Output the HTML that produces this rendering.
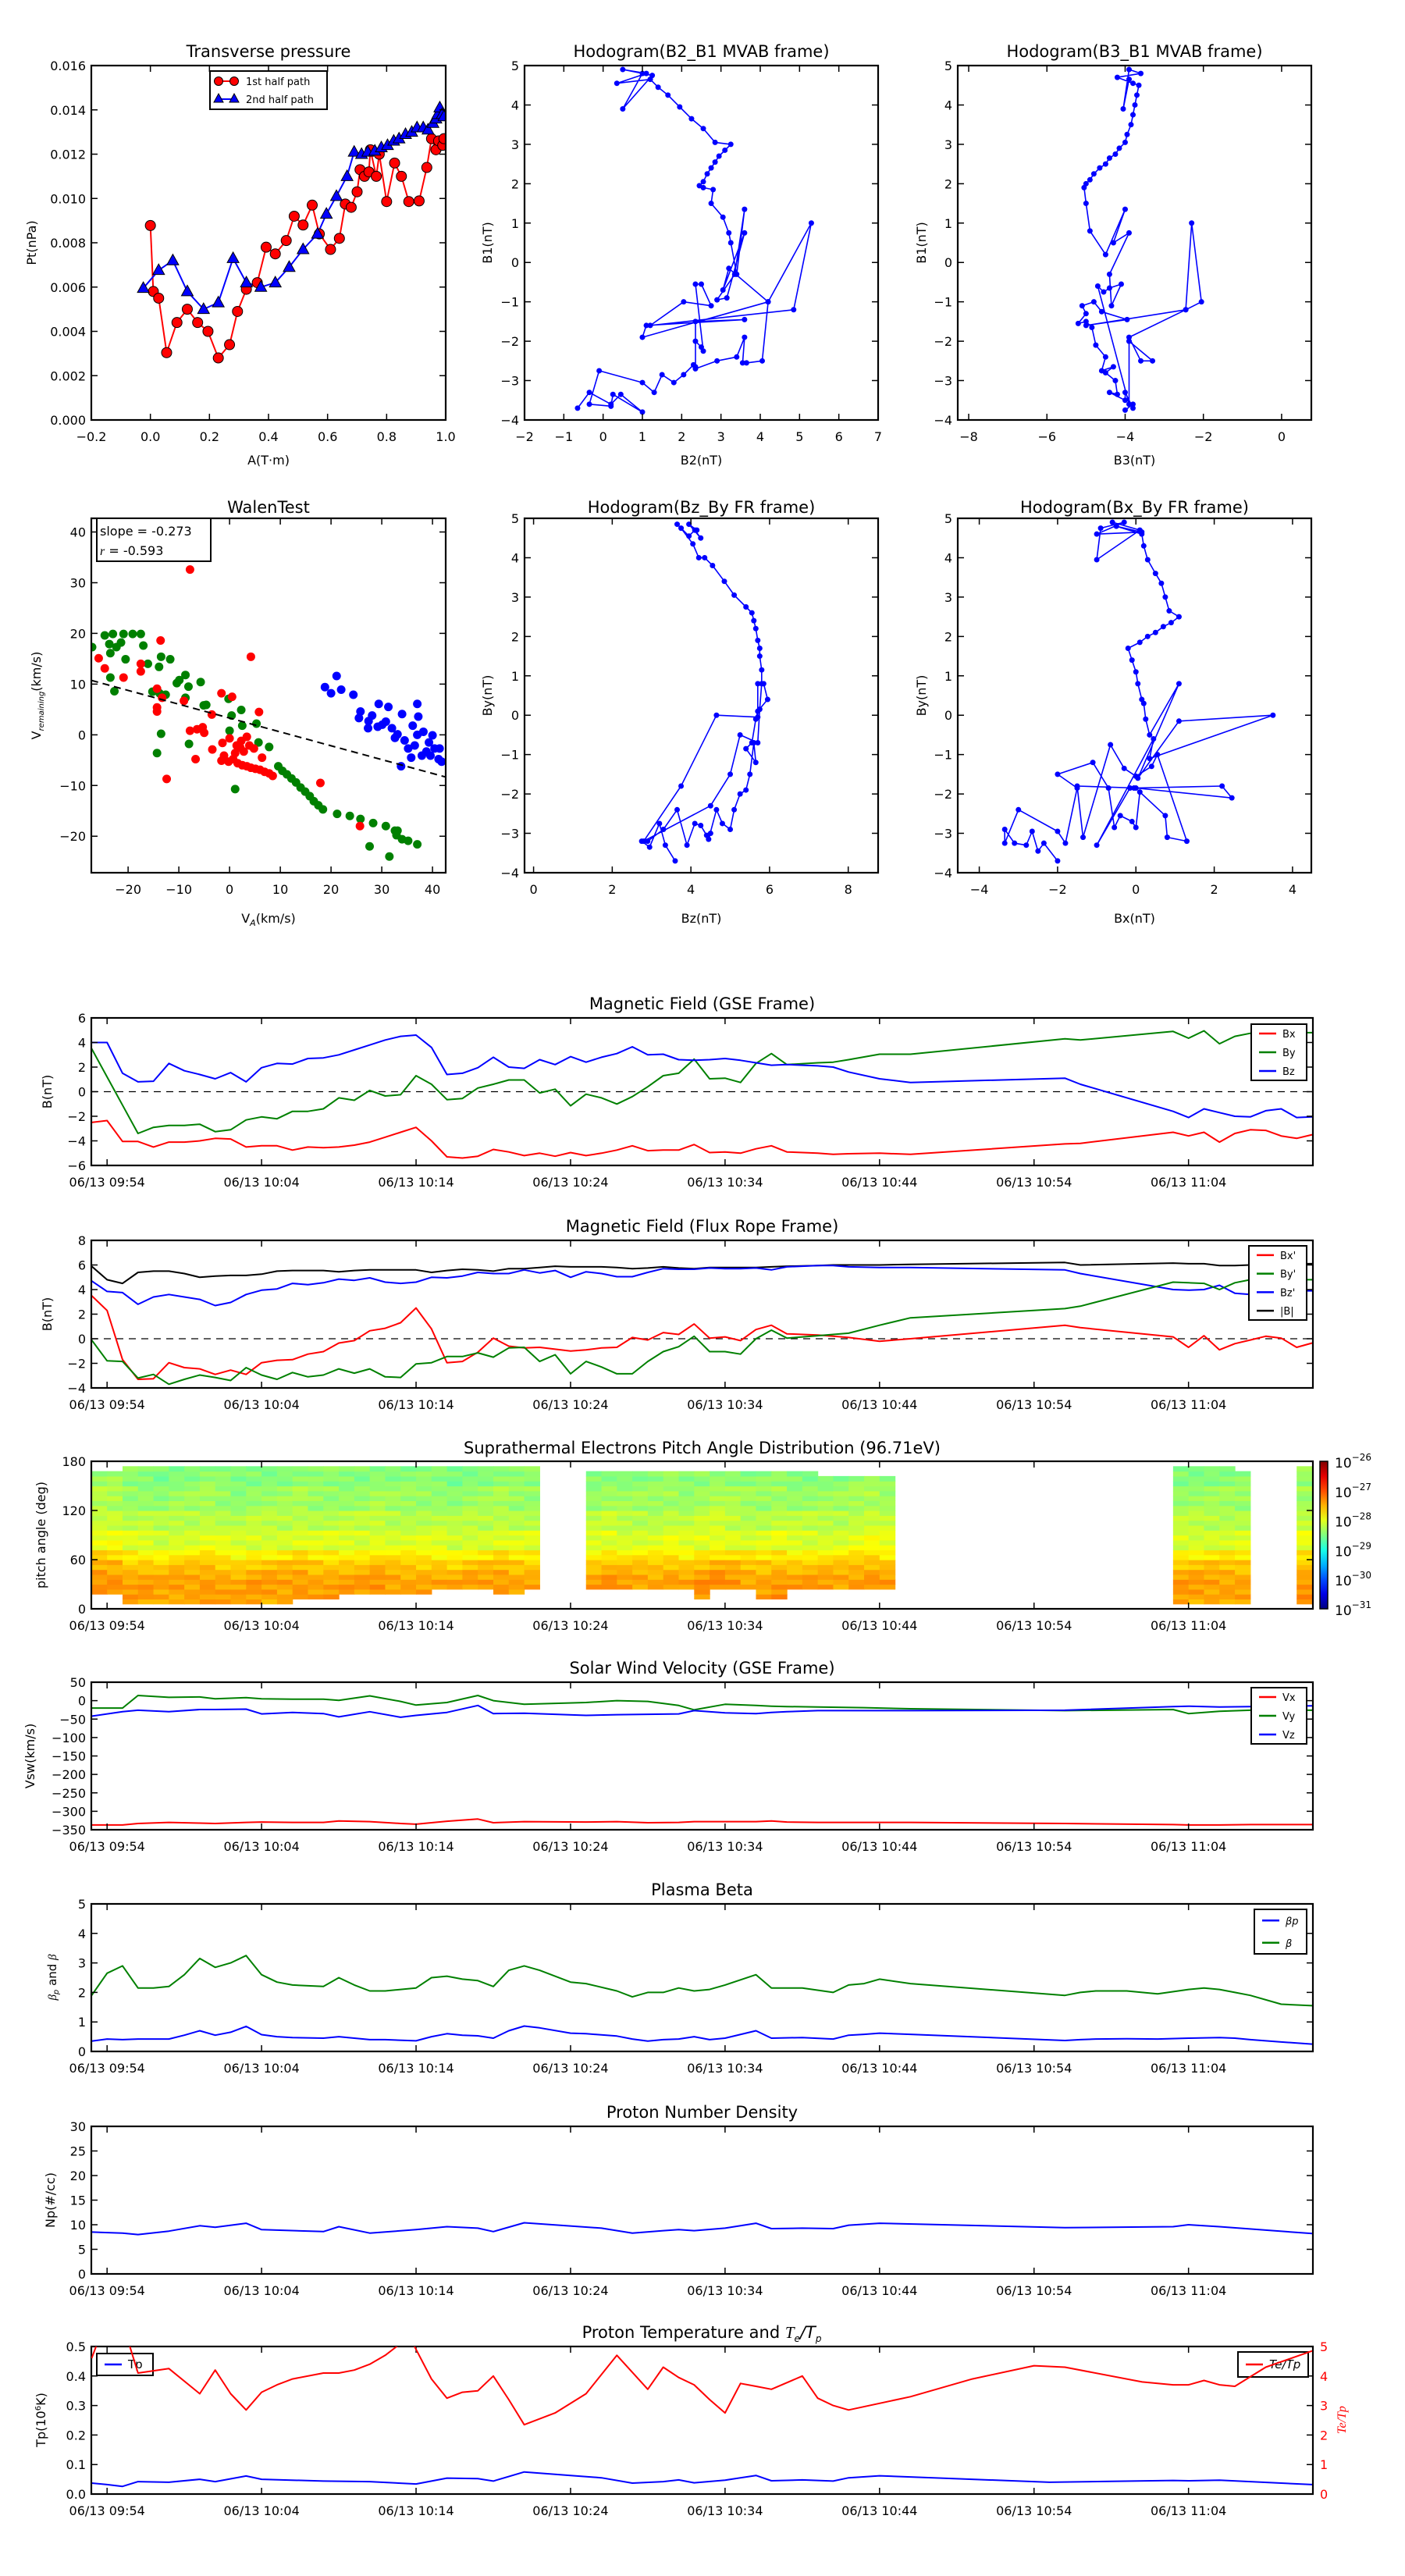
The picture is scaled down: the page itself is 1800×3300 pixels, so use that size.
<!DOCTYPE html>
<html><head><meta charset="utf-8"><title>Flux rope analysis</title>
<style>
html,body{margin:0;padding:0;background:#fff;}
svg{display:block;font-family:"DejaVu Sans","Liberation Sans",sans-serif;}
</style></head>
<body>
<svg id="chart" xmlns="http://www.w3.org/2000/svg" width="1800" height="3300" viewBox="0 0 1800 3300">
<rect x="0" y="0" width="1800" height="3300" fill="#fff"/>
</svg>
<script>
// ---------- Data: Transverse pressure ----------
const ptRedA=[0.0,0.01,0.028,0.055,0.09,0.125,0.16,0.195,0.23,0.268,0.295,0.325,0.362,0.392,0.423,0.46,0.487,0.517,0.548,0.572,0.61,0.64,0.66,0.68,0.7,0.71,0.725,0.74,0.745,0.765,0.775,0.8,0.827,0.85,0.875,0.91,0.936,0.952,0.967,0.976,0.99,0.994];
const ptRedP=[0.00878,0.0058,0.0055,0.00304,0.0044,0.005,0.0044,0.004,0.0028,0.0034,0.0049,0.0059,0.0062,0.0078,0.0075,0.0081,0.0092,0.0088,0.0097,0.0084,0.0077,0.0082,0.00975,0.0096,0.0103,0.0113,0.011,0.0112,0.0122,0.011,0.012,0.00986,0.0116,0.011,0.00986,0.00989,0.0114,0.0127,0.0122,0.0126,0.0124,0.0127];
const ptBlueA=[-0.024,0.028,0.076,0.125,0.18,0.23,0.28,0.325,0.374,0.423,0.47,0.517,0.566,0.596,0.63,0.666,0.69,0.715,0.736,0.76,0.782,0.803,0.824,0.842,0.864,0.885,0.903,0.924,0.94,0.957,0.967,0.973,0.98,0.988,0.994];
const ptBlueP=[0.00595,0.00676,0.0072,0.0058,0.005,0.0053,0.0073,0.0062,0.006,0.0062,0.0069,0.0077,0.0084,0.0093,0.0101,0.011,0.0121,0.012,0.0121,0.01215,0.0123,0.0124,0.0126,0.0127,0.0129,0.013,0.0132,0.0132,0.0131,0.0134,0.0136,0.0138,0.0141,0.0138,0.0137];
// ---------- Hodograms ----------
const hB2=[-0.65,-0.35,0.2,0.45,1.0,0.25,0.2,-0.35,-0.1,1.0,1.3,1.5,1.8,2.05,2.3,2.35,2.35,2.5,2.55,2.35,2.5,2.75,2.05,1.2,4.85,5.3,4.2,1.0,1.1,3.6,2.35,2.35,2.9,3.4,3.6,3.55,3.65,4.05,4.2,3.2,3.05,3.6,3.15,2.9,3.35,3.6,3.4,3.25,3.2,3.05,2.75,2.8,2.55,2.45,2.55,2.65,2.75,2.85,2.95,3.1,3.25,2.85,2.55,2.25,1.95,1.65,1.4,1.2,0.35,1.1,0.5,1.25,0.5,1.0];
const hB1=[-3.7,-3.3,-3.6,-3.35,-3.8,-3.35,-3.65,-3.6,-2.75,-3.05,-3.3,-2.85,-3.05,-2.85,-2.6,-2.65,-2.0,-2.15,-2.25,-0.55,-0.55,-1.1,-1.0,-1.6,-1.2,1.0,-1.0,-1.9,-1.6,-1.45,-1.5,-2.7,-2.5,-2.4,-1.9,-2.55,-2.55,-2.5,-1.0,-0.15,-0.7,0.75,-0.9,-0.95,-0.3,1.35,-0.3,0.5,0.75,1.15,1.5,1.85,1.9,1.95,2.05,2.25,2.4,2.55,2.7,2.85,3.0,3.05,3.4,3.65,3.95,4.25,4.45,4.65,4.55,4.8,4.9,4.75,3.9,4.8];
const hB3=[-4.0,-3.8,-3.8,-4.0,-4.0,-4.4,-4.2,-4.25,-4.5,-4.3,-4.6,-4.5,-4.75,-4.85,-5.0,-5.2,-5.0,-5.1,-4.8,-4.6,-3.95,-5.0,-2.45,-2.05,-2.3,-2.45,-3.9,-3.6,-3.3,-3.9,-3.9,-4.7,-4.55,-4.4,-4.1,-4.35,-4.4,-3.9,-4.3,-4.0,-4.5,-4.9,-5.0,-5.05,-5.0,-4.9,-4.8,-4.65,-4.5,-4.4,-4.25,-4.15,-4.0,-3.95,-3.85,-3.8,-3.75,-3.7,-3.65,-3.8,-4.2,-3.6,-3.9,-4.05,-3.9];
const hB1b=[-3.75,-3.6,-3.7,-3.3,-3.5,-3.3,-3.35,-3.0,-2.8,-2.65,-2.75,-2.4,-2.1,-1.65,-1.5,-1.55,-1.3,-1.1,-1.0,-1.25,-1.45,-1.6,-1.2,-1.0,1.0,-1.2,-1.9,-2.5,-2.5,-2.0,-3.6,-0.6,-0.75,-0.65,-0.55,-1.1,-0.3,0.75,0.5,1.35,0.2,0.8,1.5,1.9,2.0,2.1,2.25,2.4,2.5,2.65,2.75,2.9,3.05,3.25,3.5,3.75,4.0,4.25,4.5,4.55,4.7,4.8,4.9,3.9,4.65];
const hBz=[3.6,3.35,3.2,2.95,2.75,2.9,3.3,3.65,3.9,4.1,4.25,4.4,4.5,4.45,4.65,4.8,5.0,5.1,5.25,5.4,5.5,5.6,5.65,5.4,5.55,5.65,5.7,5.95,5.85,5.7,5.7,4.65,3.75,2.8,4.5,5.0,5.25,5.7,5.75,5.8,5.8,5.75,5.75,5.7,5.65,5.6,5.55,5.4,5.1,4.85,4.55,4.35,4.2,4.05,3.75,3.65,3.95,4.1,4.25,3.95,4.15];
const hByz=[-3.7,-3.3,-2.75,-3.35,-3.2,-3.2,-2.9,-2.4,-3.3,-2.75,-2.8,-3.05,-3.0,-3.15,-2.4,-2.75,-2.9,-2.4,-2.0,-1.9,-1.5,-0.7,-1.2,-0.85,-0.7,-0.1,0.1,0.4,0.8,0.8,-0.05,0.0,-1.8,-3.2,-2.3,-1.5,-0.5,-0.7,0.15,0.8,1.15,1.5,1.7,1.9,2.2,2.4,2.6,2.75,3.05,3.4,3.8,4.0,4.0,4.35,4.75,4.85,4.55,4.7,4.5,4.85,4.7];
const hBx=[-2.0,-2.35,-2.5,-2.65,-2.8,-3.1,-3.35,-3.35,-3.0,-2.0,-1.8,-1.5,-2.0,-1.1,-0.7,-0.55,-0.4,-0.1,0.0,0.1,0.75,0.8,1.3,0.55,0.4,0.0,-0.3,-0.65,-1.35,-1.5,0.0,2.45,2.2,-0.05,-0.15,-1.0,0.45,0.35,3.5,1.1,0.05,1.1,0.35,0.25,0.2,0.15,0.05,0.0,-0.1,-0.2,0.1,0.3,0.5,0.7,0.9,1.1,0.85,0.75,0.65,0.5,0.3,0.2,0.15,-0.5,0.15,-1.0,-0.3,-0.9,-1.0,0.1,-0.6];
const hByx=[-3.7,-3.25,-3.45,-2.95,-3.3,-3.25,-2.9,-3.25,-2.4,-2.95,-3.25,-1.85,-1.5,-1.2,-1.85,-2.85,-2.55,-2.7,-2.85,-1.95,-2.55,-3.1,-3.2,-1.0,-1.3,-1.55,-1.35,-0.75,-3.1,-1.8,-1.85,-2.1,-1.8,-1.85,-1.85,-3.3,-0.6,-1.1,0.0,-0.15,-1.6,0.8,-0.5,-0.1,0.3,0.4,0.8,1.1,1.4,1.7,1.85,2.0,2.1,2.25,2.35,2.5,2.65,3.0,3.35,3.6,3.95,4.3,4.6,4.8,4.65,4.6,4.9,4.75,3.95,4.7,4.9];
// ---------- Walen test ----------
const walenSlope=-0.273, walenIntercept=3.3;
const wRedX=[-7.8,-13.6,4.2,-25.8,-24.6,-17.5,-17.5,-20.9,-14.3,-13.3,-14.3,-14.3,-9,-1.6,0.5,5.8,-3.5,-7.8,-6.4,-5,-5.3,-3.4,-6.7,-12.4,-1.4,0,1.4,2.1,2.8,3.9,4.8,-1.6,-0.2,0.7,1.6,2.5,3.4,4.2,5.1,6,6.9,7.8,8.5,2.3,3.4,17.9,25.7,6.4,1.1,-1.1];
const wRedY=[32.6,18.6,15.4,15.1,13.1,14,12.5,11.3,9.1,7.3,5.4,4.6,6.7,8.2,7.5,4.5,4,0.8,1.1,0.4,1.5,-2.9,-4.8,-8.7,-1.6,-0.7,-2.1,-2.5,-3.3,-2.1,-2.7,-5.1,-5.3,-4.8,-5.6,-6,-6.2,-6.5,-6.7,-6.9,-7.3,-7.6,-8.1,-1.2,-0.4,-9.5,-18,-4.5,-3.6,-4.1];
const wGreenX=[-27.1,-24.6,-23,-20.9,-19.1,-17.5,-23.7,-22.3,-21.4,-23.5,-20.5,-17,-16.1,-13.9,-13.5,-11.7,-23.5,-22.7,-15.2,-13.8,-12.6,-10.4,-9.9,-8.7,-8.1,-8.7,-5.7,-5.1,-4.6,-0.2,2.3,2.5,5.3,0.4,0,-8,-13.5,-14.3,1.1,5.7,7.8,9.6,10.4,11.3,12.2,13.1,14,14.9,15.8,16.6,17.5,18.4,21.2,23.7,25.8,28.3,30.8,32.6,32.9,34,35.2,37,27.6,31.5,33.1];
const wGreenY=[17.3,19.6,19.9,19.9,19.9,19.9,17.9,17.3,18.2,16.1,14.9,17.6,14,13.4,15.4,14.9,11.3,8.6,8.5,8.2,7.9,10.2,10.8,11.8,9.5,7.3,10.4,5.8,5.9,7.1,4.9,1.8,2.2,3.8,0.8,-1.8,0.2,-3.6,-10.7,-1.5,-2.4,-6.2,-7.1,-7.8,-8.6,-9.4,-10.4,-11.2,-12.1,-13.1,-13.9,-14.7,-15.6,-16,-16.6,-17.4,-18,-18.9,-19.8,-20.6,-20.9,-21.6,-22,-24,-18.9];
const wBlueX=[18.8,21.1,20,22,24.4,25.8,25.5,27.4,27.3,29.4,31.3,30.8,29.2,32,34,33.1,34.5,37,37.2,36.1,37,38.2,39.3,39.6,41.4,37.9,35.8,33.8,41.2,40,35.2,32.6,38.8,41.8,36.5,40.4,30.1,28.1];
const wBlueY=[9.4,11.6,8.2,8.9,7.9,4.6,3.3,2.7,1.3,6.1,5.5,2.6,1.6,1.3,4.1,0.1,-1.1,6.1,3.6,1.8,0,0.6,-1.5,-4.1,-2.7,-4.1,-4.5,-6.2,-4.8,-0.1,-2.7,-0.6,-3.3,-5.3,-2.1,-2.7,2,3.8];
// ---------- Time series (minutes after 09:54) ----------
const tB=[-1,0,1,2,3,4,5,6,7,8,9,10,11,12,13,14,15,16,17,18,19,20,21,22,23,24,25,26,27,28,29,30,31,32,33,34,35,36,37,38,39,40,41,42,43,44,46,47,48,50,52,62,63,69,70,71,72,73,74,75,76,77,78];
const gseBx=[-2.5,-2.35,-4.05,-4.05,-4.5,-4.1,-4.1,-4.0,-3.8,-3.85,-4.5,-4.4,-4.4,-4.75,-4.5,-4.55,-4.5,-4.35,-4.1,-3.7,-3.3,-2.9,-4.0,-5.3,-5.4,-5.25,-4.7,-4.9,-5.2,-5.0,-5.25,-4.95,-5.2,-5.0,-4.75,-4.4,-4.8,-4.75,-4.75,-4.3,-4.95,-4.9,-5.0,-4.65,-4.4,-4.9,-5.0,-5.1,-5.05,-5.0,-5.1,-4.25,-4.2,-3.3,-3.6,-3.3,-4.1,-3.4,-3.1,-3.15,-3.6,-3.8,-3.5];
const gseBy=[3.5,1.2,-1.1,-3.4,-2.9,-2.75,-2.75,-2.65,-3.25,-3.1,-2.3,-2.05,-2.2,-1.6,-1.6,-1.4,-0.5,-0.7,0.1,-0.35,-0.25,1.3,0.6,-0.65,-0.55,0.3,0.6,0.95,0.95,-0.1,0.2,-1.15,-0.2,-0.5,-1.0,-0.4,0.4,1.3,1.5,2.65,1.05,1.1,0.75,2.3,3.1,2.2,2.35,2.4,2.6,3.05,3.05,4.3,4.2,4.9,4.35,4.95,3.9,4.5,4.75,4.85,4.9,4.8,4.8];
const gseBz=[4.0,4.0,1.5,0.8,0.85,2.3,1.7,1.4,1.05,1.55,0.8,1.95,2.3,2.25,2.7,2.75,3.0,3.4,3.8,4.2,4.5,4.6,3.6,1.4,1.5,1.95,2.8,2.0,1.9,2.6,2.2,2.85,2.4,2.8,3.1,3.65,3.0,3.05,2.6,2.55,2.6,2.7,2.55,2.35,2.15,2.2,2.1,2.0,1.6,1.05,0.75,1.1,0.6,-1.6,-2.1,-1.4,-1.7,-2.0,-2.05,-1.55,-1.4,-2.1,-2.05];
const frBx=[3.5,2.3,-1.7,-3.3,-3.25,-1.95,-2.35,-2.45,-2.9,-2.55,-2.9,-1.95,-1.75,-1.7,-1.25,-1.05,-0.35,-0.15,0.65,0.85,1.3,2.5,0.8,-1.95,-1.85,-1.1,0.05,-0.6,-0.75,-0.7,-0.85,-1.0,-0.9,-0.75,-0.7,0.1,-0.1,0.5,0.35,1.2,0.05,0.15,-0.15,0.75,1.1,0.4,0.3,0.2,0.1,-0.2,0.0,1.1,0.9,0.15,-0.7,0.25,-0.9,-0.4,-0.1,0.2,0.05,-0.7,-0.35];
const frBy=[-0.1,-1.8,-1.85,-3.2,-2.9,-3.7,-3.3,-2.95,-3.15,-3.4,-2.35,-2.95,-3.3,-2.75,-3.1,-2.95,-2.45,-2.8,-2.45,-3.1,-3.15,-2.05,-1.95,-1.45,-1.45,-1.15,-1.5,-0.75,-0.7,-1.85,-1.3,-2.85,-1.85,-2.3,-2.85,-2.85,-1.85,-1.05,-0.65,0.2,-1.05,-1.05,-1.25,0.0,0.7,0.05,0.25,0.35,0.45,1.1,1.7,2.45,2.65,4.6,4.55,4.5,4.0,4.55,4.8,4.85,4.85,4.8,4.8];
const frBz=[4.7,3.85,3.75,2.8,3.4,3.6,3.4,3.2,2.7,2.95,3.6,3.95,4.05,4.5,4.4,4.55,4.85,4.75,4.95,4.6,4.5,4.6,5.0,4.95,5.1,5.4,5.3,5.3,5.6,5.35,5.55,5.0,5.45,5.3,5.05,5.05,5.4,5.7,5.65,5.65,5.75,5.7,5.7,5.75,5.6,5.85,5.95,5.95,5.85,5.8,5.8,5.6,5.3,4.0,3.95,4.0,4.35,3.7,3.6,3.6,3.8,3.9,3.9];
const frBt=[5.9,4.8,4.5,5.4,5.5,5.5,5.3,5.0,5.1,5.15,5.15,5.25,5.5,5.55,5.55,5.55,5.45,5.55,5.6,5.6,5.6,5.6,5.4,5.55,5.65,5.6,5.5,5.7,5.7,5.8,5.9,5.85,5.85,5.85,5.8,5.7,5.75,5.85,5.75,5.7,5.8,5.8,5.8,5.8,5.85,5.9,5.95,6.0,6.0,6.0,6.05,6.2,6.0,6.15,6.1,6.1,5.95,5.95,6.0,6.2,6.1,6.1,6.1];
const tV=[-1,1,2,4,6,7,9,10,12,14,15,17,19,20,22,24,25,27,31,33,35,37,38,40,42,43,44,46,49,52,62,69,70,72,74,78];
const vx=[-337,-337,-333,-330,-332,-333,-330,-329,-330,-330,-326,-328,-333,-335,-327,-321,-331,-328,-329,-328,-331,-330,-328,-328,-328,-326,-329,-330,-330,-330,-333,-336,-337,-337,-336,-336];
const vy=[-20,-20,14,9,10,5,8,5,4,4,1,13,-2,-12,-5,14,0,-10,-5,0,-2,-13,-25,-10,-13,-15,-16,-17,-19,-22,-27,-24,-35,-29,-26,-26];
const vz=[-42,-30,-26,-30,-24,-24,-23,-36,-32,-35,-44,-30,-45,-40,-32,-13,-35,-34,-40,-38,-37,-36,-27,-33,-35,-32,-30,-27,-27,-27,-26,-16,-15,-17,-16,-14];
const tP=[-1,0,1,2,3,4,5,6,7,8,9,10,11,12,14,15,16,17,18,20,21,22,23,24,25,26,27,28,30,31,33,34,35,36,37,38,39,40,42,43,45,47,48,49,50,52,62,63,64,66,68,70,71,72,73,74,76,78];
const betaTot=[1.9,2.65,2.9,2.15,2.15,2.2,2.6,3.15,2.85,3.0,3.25,2.6,2.35,2.25,2.2,2.5,2.25,2.05,2.05,2.15,2.5,2.55,2.45,2.4,2.2,2.75,2.9,2.75,2.35,2.3,2.05,1.85,2.0,2.0,2.15,2.05,2.1,2.25,2.6,2.15,2.15,2.0,2.25,2.3,2.45,2.3,1.9,2.0,2.05,2.05,1.95,2.1,2.15,2.1,2.0,1.9,1.6,1.55];
const betaP=[0.35,0.42,0.4,0.42,0.42,0.42,0.55,0.7,0.55,0.65,0.85,0.57,0.5,0.47,0.45,0.5,0.45,0.4,0.4,0.36,0.5,0.6,0.55,0.53,0.45,0.7,0.86,0.8,0.62,0.6,0.52,0.42,0.35,0.4,0.42,0.5,0.4,0.45,0.7,0.45,0.47,0.42,0.55,0.58,0.62,0.58,0.37,0.4,0.42,0.43,0.42,0.45,0.46,0.47,0.45,0.4,0.32,0.25];
const tN=[-1,1,2,4,6,7,9,10,14,15,17,20,22,24,25,27,32,34,36,37,38,40,42,43,45,47,48,50,62,69,70,72,78];
const np=[8.5,8.3,8.0,8.7,9.8,9.5,10.3,9.0,8.6,9.6,8.3,9.0,9.6,9.3,8.6,10.4,9.3,8.3,8.8,9.0,8.8,9.3,10.3,9.2,9.3,9.2,9.9,10.3,9.4,9.6,10.0,9.6,8.2];
const tT=[-1,0,1,2,4,6,7,9,10,14,17,20,22,24,25,27,30,32,34,36,37,38,40,42,43,45,47,48,50,52,61,69,70,72,78];
const tp=[0.037,0.032,0.026,0.042,0.04,0.05,0.042,0.061,0.05,0.044,0.042,0.034,0.054,0.052,0.044,0.075,0.063,0.055,0.037,0.042,0.048,0.038,0.047,0.063,0.045,0.048,0.044,0.055,0.062,0.058,0.04,0.046,0.045,0.047,0.032];
const tR=[-1,-0.5,1.3,2,4,6,7,8,9,10,11,12,14,15,16,17,18,19,19.8,21,22,23,24,25,26,27,29,31,33,35,36,37,38,39,40,41,42,43,45,46,47,48,52,56,60,62,67,69,70,71,72,73,75,78];
const teTp=[4.6,5.3,5.3,4.1,4.25,3.4,4.2,3.4,2.85,3.45,3.7,3.9,4.1,4.1,4.2,4.4,4.7,5.1,5.1,3.9,3.25,3.45,3.5,4.0,3.2,2.35,2.75,3.4,4.7,3.55,4.3,3.95,3.7,3.2,2.75,3.75,3.65,3.55,4.0,3.25,3.0,2.85,3.3,3.9,4.35,4.3,3.8,3.7,3.7,3.85,3.7,3.65,4.3,4.85];
// ---------- PAD ----------
const padCols=[-1,0,1,2,3,4,5,6,7,8,9,10,11,12,13,14,15,16,17,18,19,20,21,22,23,24,25,26,27,31,32,33,34,35,36,37,38,39,40,41,42,43,44,45,46,47,48,49,50,69,70,71,72,73,77];
const padMin=[18,18,6,6,6,6,6,6,6,6,6,6,6,12,12,12,18,18,18,18,18,18,24,24,24,24,18,18,24,24,24,24,24,24,24,24,12,24,24,24,12,12,24,24,24,24,24,24,24,6,6,6,6,6,6];
const padMax=[168,168,174,174,174,174,174,174,174,174,174,174,174,174,174,174,174,174,174,174,174,174,174,174,174,174,174,174,174,168,168,168,168,168,168,168,168,168,168,168,168,168,168,168,162,162,162,162,162,174,174,174,174,168,174];
const padColOffset=[0.1,0.1,0,0,-0.05,0,0,0.05,0,-0.05,0,0,0,0.05,0,0,0,0,0.05,0,0,0,0,-0.05,0,0,0.05,0,0,0,0.05,0,0,0,0.05,0,0.05,0.1,0.05,0,0,0.05,0,0,0,0,0.05,0.1,0.05,0,0,0,0,0,0.05];
const padRowLevel=[-27.45,-27.45,-27.4,-27.4,-27.4,-27.4,-27.45,-27.5,-27.6,-27.6,-27.8,-27.8,-28.05,-28.05,-28.05,-28.05,-28.2,-28.2,-28.2,-28.2,-28.35,-28.35,-28.35,-28.35,-28.35,-28.45,-28.45,-28.45,-28.45,-28.45];
const padTexture=[0.08,-0.1,0.02,0.12,-0.05,-0.12,0.06,0,-0.08,0.1,-0.02,0.04,-0.14];

// ---------- helpers ----------
const NS='http://www.w3.org/2000/svg';
const svg=document.getElementById('chart');
function mk(parent,tag,attrs,name,text){
  const el=document.createElementNS(NS,tag);
  for(const k in attrs) el.setAttribute(k,attrs[k]);
  
  
  if(text!==undefined) el.textContent=text;
  parent.appendChild(el);
  return el;
}
let clipN=0;
function axes(o){
  const g=mk(svg,'g',{},o.name);
  const sx=v=>o.L+(v-o.x0)/(o.x1-o.x0)*(o.R-o.L);
  const sy=v=>o.B-(v-o.y0)/(o.y1-o.y0)*(o.B-o.T);
  const id='clip'+(clipN++);
  const cp=mk(g,'clipPath',{id:id},'clip-region');
  mk(cp,'rect',{x:o.L,y:o.T,width:o.R-o.L,height:o.B-o.T},'clip-rect');
  const data=mk(g,'g',{'clip-path':'url(#'+id+')'},'plot-area');
  return {g,data,sx,sy,o};
}
function frame(a,xt,xl,yt,yl){
  const o=a.o,g=a.g;let d='';
  xt.forEach(v=>{const x=a.sx(v);d+='M'+x+','+o.B+'v-8M'+x+','+o.T+'v8';});
  yt.forEach(v=>{const y=a.sy(v);d+='M'+o.L+','+y+'h8M'+o.R+','+y+'h-8';});
  mk(g,'path',{d:d,stroke:'#000','stroke-width':1.5,fill:'none'},'tick-marks');
  mk(g,'rect',{x:o.L,y:o.T,width:o.R-o.L,height:o.B-o.T,fill:'none',stroke:'#000','stroke-width':2.2},'axes-frame');
  xt.forEach((v,i)=>mk(g,'text',{x:a.sx(v),y:o.B+27,'text-anchor':'middle','font-size':16},'x-tick-label',xl[i]));
  yt.forEach((v,i)=>mk(g,'text',{x:o.L-7,y:a.sy(v)+6,'text-anchor':'end','font-size':16},'y-tick-label',yl[i]));
}
function title(a,txt,y){mk(a.g,'text',{x:(a.o.L+a.o.R)/2,y:y,'text-anchor':'middle','font-size':21},'plot-title',txt);}
function ylabel(a,txt,x,name){mk(a.g,'text',{x:x,y:(a.o.T+a.o.B)/2,'text-anchor':'middle','font-size':16,transform:'rotate(-90 '+x+' '+(a.o.T+a.o.B)/2+')'},name||'y-axis-title',txt);}
function xlabel(a,txt,y){mk(a.g,'text',{x:(a.o.L+a.o.R)/2,y:y,'text-anchor':'middle','font-size':16},'x-axis-title',txt);}
function line(a,xs,ys,color,name,w){
  const pts=xs.map((x,i)=>a.sx(x).toFixed(1)+','+a.sy(ys[i]).toFixed(1)).join(' ');
  return mk(a.data,'polyline',{points:pts,fill:'none',stroke:color,'stroke-width':w||2,'stroke-linejoin':'round'},name);
}
function dots(a,xs,ys,color,r,name,stroke){
  const g=mk(a.data,'g',{},name);
  xs.forEach((x,i)=>mk(g,'circle',{cx:a.sx(x),cy:a.sy(ys[i]),r:r,fill:color,stroke:stroke||color,'stroke-width':stroke?1:0},name+'-point'));
}
function tris(a,xs,ys,name){
  const g=mk(a.data,'g',{},name);
  xs.forEach((x,i)=>{const cx=a.sx(x),cy=a.sy(ys[i]);
    mk(g,'path',{d:'M'+cx+','+(cy-8)+'L'+(cx+7.5)+','+(cy+5.5)+'L'+(cx-7.5)+','+(cy+5.5)+'Z',fill:'#0000ff',stroke:'#000','stroke-width':1},name+'-point');});
}
function legend(parent,x,y,w,h,items,fs){
  const g=mk(parent,'g',{},'legend');
  mk(g,'rect',{x:x,y:y,width:w,height:h,fill:'#fff',stroke:'#000','stroke-width':2},'legend-box');
  const step=h/items.length;
  items.forEach((it,i)=>{const cy=y+step*(i+0.5);
    mk(g,'line',{x1:x+10,x2:x+32,y1:cy,y2:cy,stroke:it.c,'stroke-width':2.5},'legend-swatch');
    const t=mk(g,'text',{x:x+40,y:cy+5,'font-size':fs||14},'legend-entry',it.t);
    if(it.italic) t.setAttribute('font-style','italic');});
}
const minus=s=>String(s).replace('-','\u2212');

// ---------- Row 1 ----------
const p1=axes({name:'transverse-pressure-panel',L:117,R:571,T:84,B:538,x0:-0.2,x1:1.0,y0:0,y1:0.016});
line(p1,ptRedA,ptRedP,'#ff0000','pt-first-half-line',2);
line(p1,ptBlueA,ptBlueP,'#0000ff','pt-second-half-line',2);
dots(p1,ptRedA,ptRedP,'#ff0000',6.5,'pt-first-half-markers','#000');
tris(p1,ptBlueA,ptBlueP,'pt-second-half-markers');
frame(p1,[-0.2,0,0.2,0.4,0.6,0.8,1.0],['\u22120.2','0.0','0.2','0.4','0.6','0.8','1.0'],[0,0.002,0.004,0.006,0.008,0.01,0.012,0.014,0.016],['0.000','0.002','0.004','0.006','0.008','0.010','0.012','0.014','0.016']);
title(p1,'Transverse pressure',73);xlabel(p1,'A(T\u00b7m)',595);ylabel(p1,'Pt(nPa)',46);
(function(){const g=mk(p1.g,'g',{},'pt-legend');
 mk(g,'rect',{x:269,y:91,width:150,height:49,fill:'#fff',stroke:'#000','stroke-width':2},'legend-box');
 mk(g,'line',{x1:280,x2:300,y1:104,y2:104,stroke:'#f00','stroke-width':2},'legend-swatch');
 mk(g,'circle',{cx:280,cy:104,r:5.5,fill:'#f00',stroke:'#000'},'legend-marker');
 mk(g,'circle',{cx:300,cy:104,r:5.5,fill:'#f00',stroke:'#000'},'legend-marker');
 mk(g,'text',{x:315,y:109,'font-size':13},'legend-entry','1st half path');
 mk(g,'line',{x1:280,x2:300,y1:127,y2:127,stroke:'#00f','stroke-width':2},'legend-swatch');
 mk(g,'path',{d:'M280,120L286,131L274,131ZM300,120L306,131L294,131Z',fill:'#00f',stroke:'#000'},'legend-marker');
 mk(g,'text',{x:315,y:132,'font-size':13},'legend-entry','2nd half path');})();

const yt5=[-4,-3,-2,-1,0,1,2,3,4,5],yl5=yt5.map(minus);
const p2=axes({name:'hodogram-b2-b1-panel',L:672,R:1125,T:84,B:538,x0:-2,x1:7,y0:-4,y1:5});
line(p2,hB2,hB1,'#0000ff','hodogram-b2-b1-path',1.6);dots(p2,hB2,hB1,'#0000ff',3.5,'hodogram-b2-b1-points');
frame(p2,[-2,-1,0,1,2,3,4,5,6,7],[-2,-1,0,1,2,3,4,5,6,7].map(minus),yt5,yl5);
title(p2,'Hodogram(B2_B1 MVAB frame)',73);xlabel(p2,'B2(nT)',595);ylabel(p2,'B1(nT)',630);

const p3=axes({name:'hodogram-b3-b1-panel',L:1227,R:1680,T:84,B:538,x0:-8.28,x1:0.76,y0:-4,y1:5});
line(p3,hB3,hB1b,'#0000ff','hodogram-b3-b1-path',1.6);dots(p3,hB3,hB1b,'#0000ff',3.5,'hodogram-b3-b1-points');
frame(p3,[-8,-6,-4,-2,0],['\u22128','\u22126','\u22124','\u22122','0'],yt5,yl5);
title(p3,'Hodogram(B3_B1 MVAB frame)',73);xlabel(p3,'B3(nT)',595);ylabel(p3,'B1(nT)',1186);

// ---------- Row 2 ----------
const pw=axes({name:'walen-test-panel',L:117,R:571,T:664,B:1118,x0:-27.25,x1:42.6,y0:-27.2,y1:42.7});
dots(pw,wGreenX,wGreenY,'#008000',5.5,'walen-green-points');
dots(pw,wRedX,wRedY,'#ff0000',5.5,'walen-red-points');
dots(pw,wBlueX,wBlueY,'#0000ff',5.5,'walen-blue-points');
mk(pw.data,'line',{x1:pw.sx(-27.25),y1:pw.sy(walenIntercept+walenSlope*-27.25),x2:pw.sx(42.6),y2:pw.sy(walenIntercept+walenSlope*42.6),stroke:'#000','stroke-width':2,'stroke-dasharray':'9,6'},'walen-fit-line');
frame(pw,[-20,-10,0,10,20,30,40],['\u221220','\u221210','0','10','20','30','40'],[-20,-10,0,10,20,30,40],['\u221220','\u221210','0','10','20','30','40']);
title(pw,'WalenTest',657);
(function(){const t=mk(pw.g,'text',{x:344,y:1182,'text-anchor':'middle','font-size':16},'x-axis-title','V');
 const s=mk(t,'tspan',{'font-size':11,'font-style':'italic',dy:4},'subscript','A');
 const r=mk(t,'tspan',{dy:-4},'unit','(km/s)');
 const cy=891,cx=52;
 const y=mk(pw.g,'text',{x:cx,y:cy,'text-anchor':'middle','font-size':16,transform:'rotate(-90 '+cx+' '+cy+')'},'y-axis-title','V');
 mk(y,'tspan',{'font-size':10,'font-style':'italic',dy:4},'subscript','remaining');
 mk(y,'tspan',{dy:-4},'unit','(km/s)');
 mk(pw.g,'rect',{x:124,y:664,width:146,height:55,fill:'#fff',stroke:'#000','stroke-width':2},'walen-stats-box');
 mk(pw.g,'text',{x:128,y:686,'font-size':16},'walen-slope-text','slope = -0.273');
 const r2=mk(pw.g,'text',{x:128,y:711,'font-size':16},'walen-r-text','');
 mk(r2,'tspan',{'font-style':'italic','font-family':'Liberation Serif, serif'},'r-symbol','r');
 mk(r2,'tspan',{},'r-value',' = -0.593');})();

const p5=axes({name:'hodogram-bz-by-panel',L:672,R:1125,T:664,B:1118,x0:-0.23,x1:8.76,y0:-4,y1:5});
line(p5,hBz,hByz,'#0000ff','hodogram-bz-by-path',1.6);dots(p5,hBz,hByz,'#0000ff',3.5,'hodogram-bz-by-points');
frame(p5,[0,2,4,6,8],['0','2','4','6','8'],yt5,yl5);
title(p5,'Hodogram(Bz_By FR frame)',657);xlabel(p5,'Bz(nT)',1182);ylabel(p5,'By(nT)',630);

const p6=axes({name:'hodogram-bx-by-panel',L:1227,R:1680,T:664,B:1118,x0:-4.55,x1:4.48,y0:-4,y1:5});
line(p6,hBx,hByx,'#0000ff','hodogram-bx-by-path',1.6);dots(p6,hBx,hByx,'#0000ff',3.5,'hodogram-bx-by-points');
frame(p6,[-4,-2,0,2,4],['\u22124','\u22122','0','2','4'],yt5,yl5);
title(p6,'Hodogram(Bx_By FR frame)',657);xlabel(p6,'Bx(nT)',1182);ylabel(p6,'By(nT)',1186);

// ---------- Time panels ----------
const tTicks=[0,10,20,30,40,50,60,70];
const tLabels=['06/13 09:54','06/13 10:04','06/13 10:14','06/13 10:24','06/13 10:34','06/13 10:44','06/13 10:54','06/13 11:04'];
function tAxes(name,T,B,y0,y1){return axes({name:name,L:117,R:1682,T:T,B:B,x0:-1.02,x1:78.05,y0:y0,y1:y1});}
function zeroLine(a){mk(a.data,'line',{x1:a.o.L,x2:a.o.R,y1:a.sy(0),y2:a.sy(0),stroke:'#000','stroke-width':1.2,'stroke-dasharray':'9,7'},'zero-reference-line');}

const gse=tAxes('magnetic-field-gse-panel',1304,1493,-6,6);
zeroLine(gse);
line(gse,tB,gseBx,'#ff0000','gse-bx-line');line(gse,tB,gseBy,'#008000','gse-by-line');line(gse,tB,gseBz,'#0000ff','gse-bz-line');
frame(gse,tTicks,tLabels,[-6,-4,-2,0,2,4,6],[-6,-4,-2,0,2,4,6].map(minus));
title(gse,'Magnetic Field (GSE Frame)',1293);ylabel(gse,'B(nT)',66);
legend(gse.g,1603,1312,71,72,[{c:'#f00',t:'Bx'},{c:'#008000',t:'By'},{c:'#00f',t:'Bz'}],13);

const fr=tAxes('magnetic-field-fr-panel',1589,1778,-4,8);
zeroLine(fr);
line(fr,tB,frBt,'#000000','fr-btotal-line');line(fr,tB,frBz,'#0000ff','fr-bz-line');line(fr,tB,frBx,'#ff0000','fr-bx-line');line(fr,tB,frBy,'#008000','fr-by-line');
frame(fr,tTicks,tLabels,[-4,-2,0,2,4,6,8],[-4,-2,0,2,4,6,8].map(minus));
title(fr,'Magnetic Field (Flux Rope Frame)',1578);ylabel(fr,'B(nT)',66);
legend(fr.g,1600,1596,74,95,[{c:'#f00',t:"Bx'"},{c:'#008000',t:"By'"},{c:'#00f',t:"Bz'"},{c:'#000',t:'|B|'}],13);

function jet(v){const c=x=>Math.round(255*Math.max(0,Math.min(1,x)));
  return 'rgb('+c(1.5-Math.abs(4*v-3))+','+c(1.5-Math.abs(4*v-2))+','+c(1.5-Math.abs(4*v-1))+')';}
const pad=tAxes('pitch-angle-distribution-panel',1872,2061,0,180);
(function(){const g=mk(pad.data,'g',{},'pad-heatmap');
 padCols.forEach((t,c)=>{for(let r=0;r<30;r++){const lo=r*6,hi=lo+6;
   if(lo<padMin[c]||hi>padMax[c]) continue;
   const val=padRowLevel[r]+padColOffset[c]+padTexture[(r*5+c*3)%13];
   const x0=pad.sx(t),x1=pad.sx(Math.min(t+1,78.05));
   const cell=mk(g,'rect',{x:x0,y:pad.sy(hi),width:x1-x0+0.6,height:pad.sy(lo)-pad.sy(hi)+0.6,fill:jet((val+31)/5)},'pad-cell');}});})();
frame(pad,tTicks,tLabels,[0,60,120,180],['0','60','120','180']);
title(pad,'Suprathermal Electrons Pitch Angle Distribution (96.71eV)',1862);ylabel(pad,'pitch angle (deg)',58);
(function(){const g=mk(svg,'g',{},'pad-colorbar');
 const defs=mk(g,'defs',{},'colorbar-defs');
 const lg=mk(defs,'linearGradient',{id:'jetgrad',x1:0,y1:1,x2:0,y2:0},'jet-gradient');
 for(let i=0;i<=10;i++){mk(lg,'stop',{offset:(i/10),'stop-color':jet(i/10)},'gradient-stop');}
 mk(g,'rect',{x:1691,y:1872,width:10,height:189,fill:'url(#jetgrad)',stroke:'#000','stroke-width':1.5},'colorbar');
 for(let i=0;i<6;i++){const y=1872+i*189/5;
   const t=mk(g,'text',{x:1710,y:y+8,'font-size':17},'colorbar-tick-label','10');
   mk(t,'tspan',{dy:-9,'font-size':12},'exponent','\u2212'+(26+i));}})();

const vsw=tAxes('solar-wind-velocity-panel',2155,2344,-350,50);
line(vsw,tV,vx,'#ff0000','vx-line');line(vsw,tV,vy,'#008000','vy-line');line(vsw,tV,vz,'#0000ff','vz-line');
const vt=[-350,-300,-250,-200,-150,-100,-50,0,50];
frame(vsw,tTicks,tLabels,vt,vt.map(minus));
title(vsw,'Solar Wind Velocity (GSE Frame)',2144);ylabel(vsw,'Vsw(km/s)',44);
legend(vsw.g,1603,2162,71,72,[{c:'#f00',t:'Vx'},{c:'#008000',t:'Vy'},{c:'#00f',t:'Vz'}],13);

const bp=tAxes('plasma-beta-panel',2439,2628,0,5);
line(bp,tP,betaTot,'#008000','beta-total-line');line(bp,tP,betaP,'#0000ff','beta-proton-line');
frame(bp,tTicks,tLabels,[0,1,2,3,4,5],['0','1','2','3','4','5']);
title(bp,'Plasma Beta',2428);
(function(){const cx=72,cy=2533;const t=mk(bp.g,'text',{x:cx,y:cy,'text-anchor':'middle','font-size':15,transform:'rotate(-90 '+cx+' '+cy+')'},'y-axis-title','');
 mk(t,'tspan',{'font-style':'italic','font-family':'Liberation Serif, serif'},'beta-symbol','\u03b2');mk(t,'tspan',{'font-size':10,dy:3,'font-style':'italic'},'subscript','p');
 mk(t,'tspan',{dy:-3},'and-text',' and ');mk(t,'tspan',{'font-style':'italic','font-family':'Liberation Serif, serif'},'beta-symbol','\u03b2');})();
legend(bp.g,1607,2446,67,57,[{c:'#00f',t:'\u03b2p',italic:true},{c:'#008000',t:'\u03b2',italic:true}],13);

const nd=tAxes('proton-density-panel',2724,2913,0,30);
line(nd,tN,np,'#0000ff','np-line');
frame(nd,tTicks,tLabels,[0,5,10,15,20,25,30],['0','5','10','15','20','25','30']);
title(nd,'Proton Number Density',2713);ylabel(nd,'Np(#/cc)',70);

const tpA=tAxes('proton-temperature-panel',3006,3195,0,0.5);
const tpR=axes({name:'te-tp-axis',L:117,R:1682,T:3006,B:3195,x0:-1.02,x1:78.05,y0:0,y1:5});
line(tpR,tR,teTp,'#ff0000','te-tp-ratio-line');
line(tpA,tT,tp,'#0000ff','tp-line');
frame(tpA,tTicks,tLabels,[0,0.1,0.2,0.3,0.4,0.5],['0.0','0.1','0.2','0.3','0.4','0.5']);
[0,1,2,3,4,5].forEach(v=>mk(tpA.g,'text',{x:1691,y:tpR.sy(v)+6,'font-size':16,fill:'#ff0000'},'right-y-tick-label',String(v)));
(function(){const t=mk(tpA.g,'text',{x:899,y:2995,'text-anchor':'middle','font-size':21},'plot-title','Proton Temperature and ');
 mk(t,'tspan',{'font-style':'italic','font-family':'Liberation Serif, serif'},'te','T');mk(t,'tspan',{'font-size':12,dy:5,'font-style':'italic'},'sub','e');
 mk(t,'tspan',{dy:-5,'font-style':'italic'},'slash','/T');mk(t,'tspan',{'font-size':12,dy:5,'font-style':'italic'},'sub','p');
 const cx=58,cy=3100;const y=mk(tpA.g,'text',{x:cx,y:cy,'text-anchor':'middle','font-size':16,transform:'rotate(-90 '+cx+' '+cy+')'},'y-axis-title','Tp(10');
 mk(y,'tspan',{'font-size':10,dy:-6},'exponent','6');mk(y,'tspan',{dy:6},'unit','K)');
 const rx=1724;const ry=mk(tpA.g,'text',{x:rx,y:cy,'text-anchor':'middle','font-size':16,fill:'#ff0000','font-style':'italic','font-family':'Liberation Serif, serif',transform:'rotate(-90 '+rx+' '+cy+')'},'right-y-axis-title','Te/Tp');})();
legend(tpA.g,124,3015,72,28,[{c:'#00f',t:'Tp'}],15);
legend(tpA.g,1586,3013,90,32,[{c:'#f00',t:'Te/Tp',italic:true}],15);
</script>
</body></html>
